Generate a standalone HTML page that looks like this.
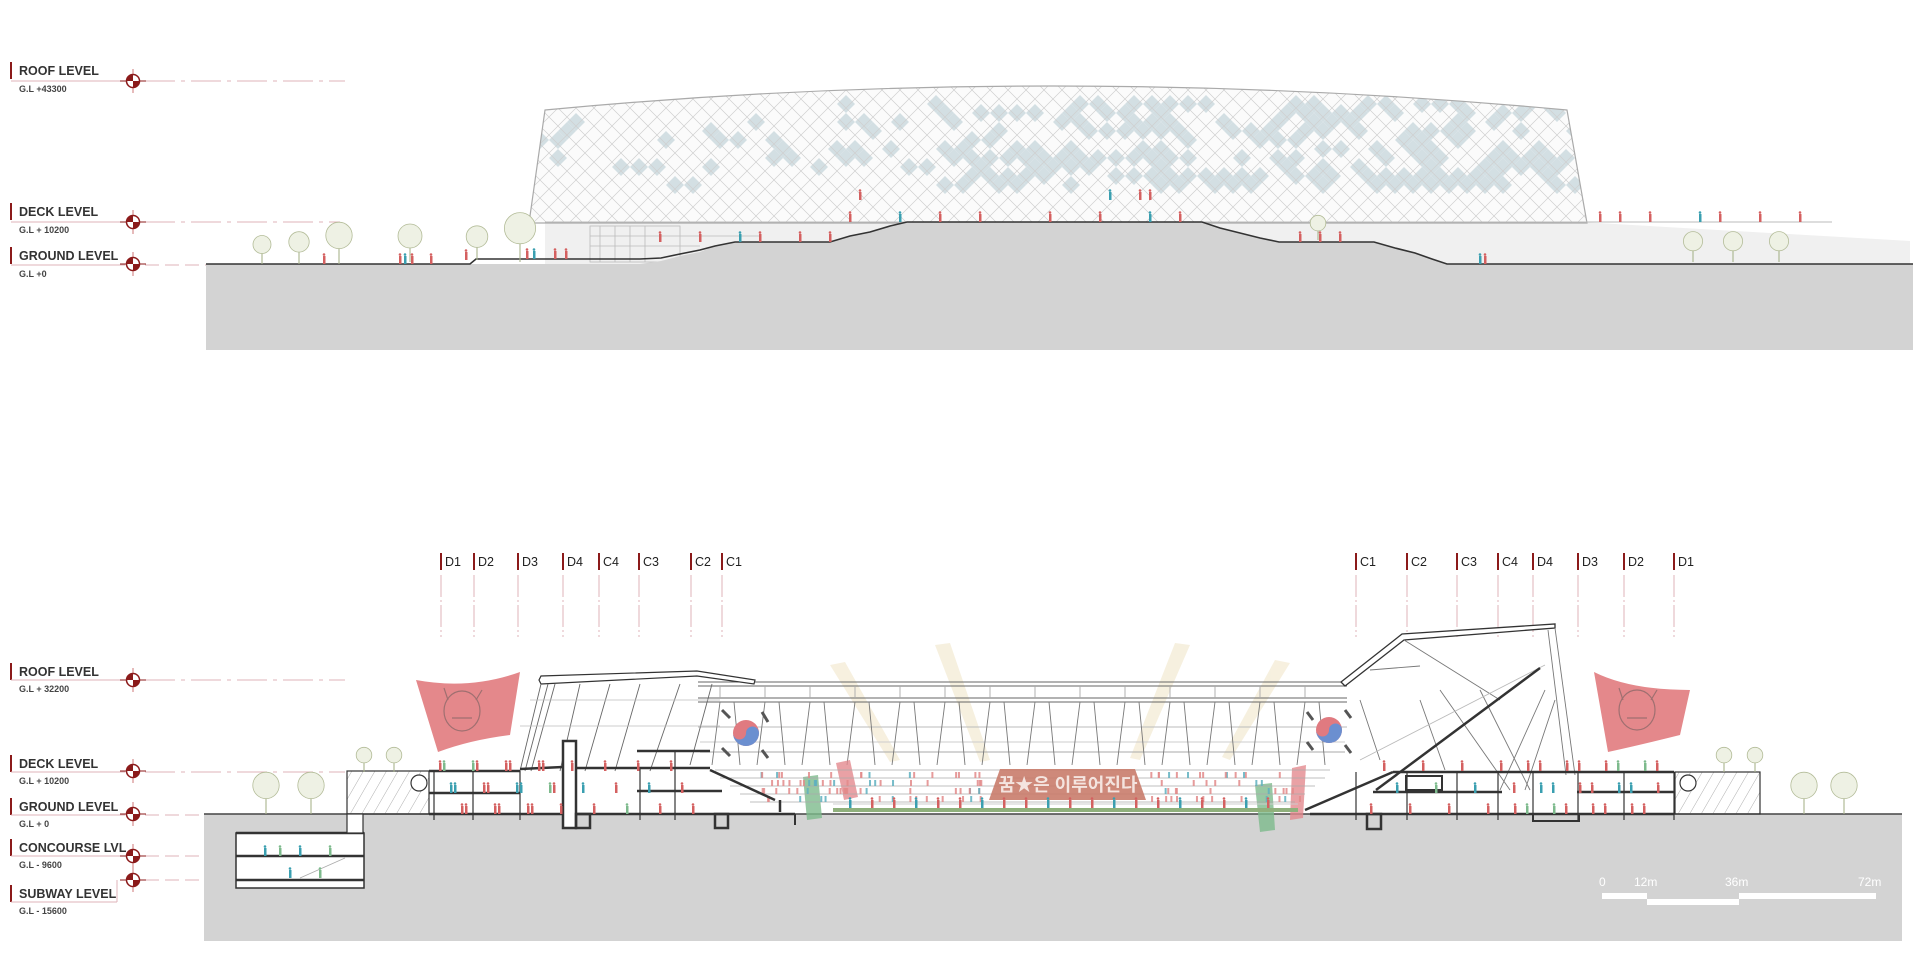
<!DOCTYPE html>
<html><head><meta charset="utf-8">
<style>
html,body{margin:0;padding:0;background:#fff;width:1920px;height:980px;overflow:hidden}
svg{display:block}
text{font-family:"Liberation Sans","Noto Sans CJK KR",sans-serif}
.lb{font-size:12.5px;font-weight:bold;fill:#333}
.sb{font-size:9px;font-weight:bold;fill:#444}
</style></head><body>
<svg id="s" width="1920" height="980" viewBox="0 0 1920 980" xmlns="http://www.w3.org/2000/svg">
<defs>
<pattern id="lat" width="18" height="18" patternUnits="userSpaceOnUse">
<path d="M0,0 L18,18 M18,0 L0,18" stroke="#cfcfcf" stroke-width="0.7"/>
</pattern>
<pattern id="hat" width="10" height="10" patternUnits="userSpaceOnUse" patternTransform="rotate(30)">
<line x1="0" y1="0" x2="0" y2="10" stroke="#777" stroke-width="0.6"/>
</pattern>
<clipPath id="roofclip"><path d="M529,223 L545,110 Q1050,62 1567,110 L1587,223 Z"/></clipPath>
</defs>

<g>
<rect x="10" y="62" width="2" height="17" fill="#8b1a1a"/>
<text x="19" y="75" class="lb">ROOF LEVEL</text>
<line x1="11" y1="81" x2="125" y2="81" stroke="#dfb3b8" stroke-width="1"/>
<text x="19" y="92" class="sb">G.L +43300</text>
<line x1="145" y1="81" x2="345" y2="81" stroke="#dfb3b8" stroke-width="1" stroke-dasharray="30,6,4,6"/>

<rect x="10" y="203" width="2" height="17" fill="#8b1a1a"/>
<text x="19" y="216" class="lb">DECK LEVEL</text>
<line x1="11" y1="222" x2="125" y2="222" stroke="#dfb3b8"/>
<text x="19" y="233" class="sb">G.L + 10200</text>
<line x1="145" y1="222" x2="340" y2="222" stroke="#dfb3b8" stroke-dasharray="30,6,4,6"/>

<rect x="10" y="247" width="2" height="17" fill="#8b1a1a"/>
<text x="19" y="260" class="lb">GROUND LEVEL</text>
<line x1="11" y1="265" x2="125" y2="265" stroke="#dfb3b8"/>
<text x="19" y="277" class="sb">G.L +0</text>
<line x1="145" y1="265" x2="206" y2="265" stroke="#dfb3b8" stroke-dasharray="14,6"/>
</g>

<polygon points="545,222 1580,222 1910,241 1910,264 545,264" fill="#f0f0f0"/>
<path d="M529,223 L545,110 Q1050,62 1567,110 L1587,223 Z" fill="#fbfbfb"/>
<g id="blue" clip-path="url(#roofclip)"></g>
<path d="M529,223 L545,110 Q1050,62 1567,110 L1587,223 Z" fill="url(#lat)" stroke="#aaa" stroke-width="1.2"/>
<line x1="545" y1="222" x2="1832" y2="222" stroke="#bbb" stroke-width="1"/>
<g stroke="#bbb" stroke-width="0.8" fill="none">
<rect x="590" y="226" width="90" height="36"/>
<line x1="590" y1="236" x2="760" y2="236"/><line x1="590" y1="246" x2="700" y2="246"/>
<line x1="600" y1="226" x2="600" y2="262"/><line x1="615" y1="226" x2="615" y2="262"/><line x1="630" y1="226" x2="630" y2="262"/><line x1="645" y1="226" x2="645" y2="262"/>
</g>
<rect x="206" y="264" width="1707" height="86" fill="#d3d3d3"/>
<polygon points="640,264 661,261 680,256 700,252 715,246 735,242 830,242 850,236 870,232 890,226 907,222 1202,222 1220,228 1240,233 1260,238 1279,242 1374,242 1395,248 1415,253 1432,259 1447,264" fill="#d3d3d3"/>
<polyline points="206,264 470,264 476,259 640,259 661,258 680,254 700,250 715,246 735,242 830,242 850,236 870,232 890,226 907,222 1202,222 1220,228 1240,233 1260,238 1279,242 1374,242 1395,248 1415,253 1432,259 1447,264 1913,264" fill="none" stroke="#333" stroke-width="1.6"/>
<g id="treesTop"></g>
<g id="peopleTop"></g>

<g id="grid"></g>

<g>
<rect x="10" y="663" width="2" height="17" fill="#8b1a1a"/>
<text x="19" y="676" class="lb">ROOF LEVEL</text>
<line x1="11" y1="680" x2="125" y2="680" stroke="#dfb3b8"/>
<text x="19" y="692" class="sb">G.L + 32200</text>
<line x1="145" y1="680" x2="345" y2="680" stroke="#dfb3b8" stroke-dasharray="30,6,4,6"/>

<rect x="10" y="755" width="2" height="17" fill="#8b1a1a"/>
<text x="19" y="768" class="lb">DECK LEVEL</text>
<line x1="11" y1="772" x2="125" y2="772" stroke="#dfb3b8"/>
<text x="19" y="784" class="sb">G.L + 10200</text>
<line x1="145" y1="772" x2="345" y2="772" stroke="#dfb3b8" stroke-dasharray="30,6,4,6"/>

<rect x="10" y="798" width="2" height="17" fill="#8b1a1a"/>
<text x="19" y="811" class="lb">GROUND LEVEL</text>
<line x1="11" y1="815" x2="125" y2="815" stroke="#dfb3b8"/>
<text x="19" y="827" class="sb">G.L + 0</text>
<line x1="145" y1="815" x2="204" y2="815" stroke="#dfb3b8" stroke-dasharray="14,6"/>

<rect x="10" y="839" width="2" height="17" fill="#8b1a1a"/>
<text x="19" y="852" class="lb">CONCOURSE LVL</text>
<line x1="11" y1="856" x2="125" y2="856" stroke="#dfb3b8"/>
<text x="19" y="868" class="sb">G.L - 9600</text>
<line x1="145" y1="856" x2="204" y2="856" stroke="#dfb3b8" stroke-dasharray="14,6"/>

<line x1="145" y1="880" x2="204" y2="880" stroke="#dfb3b8" stroke-dasharray="14,6"/>
<line x1="117" y1="880" x2="117" y2="902" stroke="#dfb3b8"/>
<rect x="10" y="885" width="2" height="17" fill="#8b1a1a"/>
<text x="19" y="898" class="lb">SUBWAY LEVEL</text>
<line x1="11" y1="902" x2="117" y2="902" stroke="#dfb3b8"/>
<text x="19" y="914" class="sb">G.L - 15600</text>
</g>
<g id="markers"></g>

<rect x="204" y="814" width="1698" height="127" fill="#d3d3d3"/>
<line x1="204" y1="814" x2="1902" y2="814" stroke="#444" stroke-width="1.5"/>

<g fill="#f3ead2" opacity="0.7">
<polygon points="830,665 845,662 900,760 890,762"/>
<polygon points="935,645 950,643 990,760 980,762"/>
<polygon points="1175,643 1190,645 1140,760 1130,758"/>
<polygon points="1275,660 1290,663 1230,760 1222,757"/>
</g>

<g stroke="#666" stroke-width="0.9" fill="none">
<line x1="698" y1="682" x2="1347" y2="682"/>
<line x1="698" y1="686" x2="1347" y2="686"/>
<line x1="698" y1="698" x2="1347" y2="698"/>
<line x1="698" y1="702" x2="1347" y2="702"/>
<line x1="698" y1="727" x2="1347" y2="727" stroke="#bbb"/>
<line x1="700" y1="742" x2="1345" y2="742" stroke="#ccc"/>
<line x1="700" y1="752" x2="1345" y2="752" stroke="#aaa"/>
</g>
<g id="truss" stroke="#777" stroke-width="0.9" fill="none"></g>

<g>
<circle cx="746" cy="733" r="13" fill="#e07a80"/>
<path d="M733,733 A13,13 0 0 0 759,733 A6.5,6.5 0 0 0 746,733 A6.5,6.5 0 0 1 733,733Z" fill="#6b8fd0"/>
<circle cx="1329" cy="730" r="13" fill="#e07a80"/>
<path d="M1316,730 A13,13 0 0 0 1342,730 A6.5,6.5 0 0 0 1329,730 A6.5,6.5 0 0 1 1316,730Z" fill="#6b8fd0"/>
<g stroke="#555" stroke-width="3">
<line x1="722" y1="710" x2="730" y2="718"/><line x1="762" y1="712" x2="768" y2="722"/><line x1="722" y1="748" x2="730" y2="756"/><line x1="762" y1="750" x2="768" y2="758"/>
<line x1="1307" y1="712" x2="1313" y2="720"/><line x1="1345" y1="710" x2="1351" y2="718"/><line x1="1307" y1="742" x2="1313" y2="750"/><line x1="1345" y1="745" x2="1351" y2="753"/>
</g>
<polygon points="803,777 818,775 822,818 807,820" fill="#7dba8c" opacity="0.8"/>
<polygon points="836,763 850,760 858,797 844,800" fill="#e48a8f" opacity="0.8"/>
<polygon points="1255,785 1272,783 1275,830 1260,832" fill="#7dba8c" opacity="0.8"/>
<polygon points="1292,768 1306,765 1303,818 1290,820" fill="#e48a8f" opacity="0.8"/>
</g>

<g stroke="#aaa" stroke-width="0.8" fill="none">
<line x1="715" y1="770" x2="1330" y2="770"/>
<line x1="720" y1="778" x2="1325" y2="778"/>
<line x1="730" y1="786" x2="1315" y2="786"/>
<line x1="740" y1="794" x2="1305" y2="794"/>
<line x1="750" y1="802" x2="1295" y2="802"/>
</g>
<g id="crowd"></g>
<polygon points="1000,769 1135,769 1146,800 989,800" fill="#c97c6c" opacity="0.9"/>
<text x="1068" y="791" text-anchor="middle" font-size="18" font-weight="bold" fill="#f4e4df" font-family="'Liberation Sans','Noto Sans CJK KR',sans-serif">꿈★은 이루어진다</text>
<rect x="833" y="808" width="465" height="4" fill="#8fb07c"/>
<line x1="833" y1="804" x2="1298" y2="804" stroke="#ccc"/>

<g fill="none" stroke="#333">
<path d="M539,680 L541,676 L697,671 L755,680 L754,684 L697,676 L541,684 Z" stroke-width="1.2" fill="#fff"/>
<g stroke="#666" stroke-width="0.9">
<line x1="541" y1="684" x2="520" y2="771"/><line x1="548" y1="684" x2="525" y2="771"/><line x1="555" y1="684" x2="531" y2="771"/>
<line x1="580" y1="684" x2="560" y2="771"/><line x1="610" y1="684" x2="585" y2="771"/><line x1="640" y1="684" x2="615" y2="771"/>
<line x1="680" y1="684" x2="650" y2="771"/><line x1="712" y1="684" x2="690" y2="765"/>
</g>
<g stroke="#bbb" stroke-width="0.8"><line x1="520" y1="726" x2="720" y2="726"/><line x1="530" y1="700" x2="720" y2="700"/></g>
<rect x="347" y="771" width="82" height="43" fill="url(#hat)" stroke="#333" stroke-width="1.2"/>
<circle cx="419" cy="783" r="8" stroke-width="1.2" fill="#fff"/>
<g stroke-width="2.5">
<line x1="429" y1="771" x2="520" y2="771"/>
<line x1="520" y1="769" x2="563" y2="767"/>
<line x1="576" y1="768" x2="710" y2="768"/>
<line x1="637" y1="751" x2="710" y2="751"/>
<line x1="429" y1="793" x2="520" y2="793"/>
<line x1="637" y1="791" x2="722" y2="791"/>
<line x1="429" y1="814" x2="795" y2="814"/>
<line x1="710" y1="770" x2="775" y2="800"/>
<line x1="780" y1="800" x2="780" y2="812"/>
</g>
<rect x="563" y="741" width="13" height="87" stroke-width="2.5" fill="#fff"/>
<rect x="576" y="814" width="14" height="14" stroke-width="2.5"/>
<rect x="715" y="814" width="13" height="14" stroke-width="2.5"/>
<line x1="795" y1="814" x2="795" y2="825" stroke-width="2"/>
<g stroke-width="1.2"><line x1="434" y1="771" x2="434" y2="820"/><line x1="473" y1="771" x2="473" y2="820"/><line x1="520" y1="771" x2="520" y2="820"/><line x1="640" y1="768" x2="640" y2="820"/><line x1="675" y1="751" x2="675" y2="820"/></g>
<rect x="236" y="833" width="128" height="55" stroke-width="1.5" fill="#fff"/>
<line x1="236" y1="833" x2="364" y2="833" stroke-width="2.5"/>
<line x1="236" y1="856" x2="364" y2="856" stroke-width="2.5"/>
<line x1="236" y1="880" x2="364" y2="880" stroke-width="2.5"/>
<rect x="347" y="814" width="16" height="19" stroke-width="1.2" fill="#fff"/>
<line x1="300" y1="878" x2="345" y2="858" stroke="#aaa" stroke-width="0.8"/>
</g>

<g fill="none" stroke="#333">
<path d="M1341,682 L1402,634 L1555,624 L1555,628 L1404,640 L1345,686 Z" stroke-width="1.3" fill="#fff"/>
<g stroke="#777" stroke-width="0.9">
<line x1="1555" y1="628" x2="1575" y2="775"/><line x1="1548" y1="630" x2="1566" y2="775"/>
<line x1="1370" y1="670" x2="1420" y2="666"/><line x1="1404" y1="640" x2="1500" y2="700"/>
<line x1="1440" y1="690" x2="1510" y2="790"/><line x1="1480" y1="690" x2="1530" y2="790"/>
<line x1="1500" y1="790" x2="1545" y2="690"/><line x1="1525" y1="790" x2="1555" y2="700"/>
<line x1="1360" y1="700" x2="1380" y2="760"/><line x1="1420" y1="700" x2="1445" y2="770"/>
<line x1="1360" y1="760" x2="1545" y2="665" stroke="#bbb"/>
</g>
<g stroke-width="2.5">
<line x1="1376" y1="790" x2="1540" y2="668"/>
<line x1="1305" y1="810" x2="1393" y2="772"/>
<line x1="1393" y1="772" x2="1674" y2="772"/>
<line x1="1373" y1="792" x2="1502" y2="792"/>
<line x1="1577" y1="792" x2="1674" y2="792"/>
<line x1="1310" y1="814" x2="1674" y2="814"/>
</g>
<rect x="1406" y="776" width="36" height="14" stroke-width="2" fill="#fff"/>
<rect x="1367" y="814" width="14" height="15" stroke-width="2.5"/>
<rect x="1533" y="814" width="46" height="7" stroke-width="2"/>
<g stroke-width="1.2"><line x1="1356" y1="772" x2="1356" y2="820"/><line x1="1407" y1="772" x2="1407" y2="820"/><line x1="1457" y1="772" x2="1457" y2="820"/><line x1="1498" y1="772" x2="1498" y2="820"/><line x1="1533" y1="772" x2="1533" y2="820"/><line x1="1578" y1="772" x2="1578" y2="820"/><line x1="1624" y1="772" x2="1624" y2="820"/><line x1="1674" y1="772" x2="1674" y2="820"/></g>
<rect x="1675" y="772" width="85" height="42" fill="url(#hat)" stroke-width="1.2"/>
<circle cx="1688" cy="783" r="8" stroke-width="1.2" fill="#fff"/>
</g>

<path d="M416,680 Q470,690 520,672 L510,735 Q470,740 438,752 Z" fill="#e4888b"/>
<path d="M1594,672 Q1630,690 1690,690 L1680,735 Q1640,745 1608,752 Z" fill="#e4888b"/>
<g fill="none" stroke="#8e6a6a" stroke-width="1.2" opacity="0.8">
<ellipse cx="462" cy="711" rx="18" ry="20"/><path d="M448,700 L444,688 M476,700 L482,690 M452,718 L472,718"/>
<ellipse cx="1637" cy="710" rx="18" ry="20"/><path d="M1623,700 L1619,688 M1651,700 L1657,690 M1627,718 L1647,718"/>
</g>

<g id="treesBot"></g>
<g id="peopleBot"></g>

<g>
<text x="1599" y="886" font-size="12" fill="#fff">0</text>
<text x="1634" y="886" font-size="12" fill="#fff">12m</text>
<text x="1725" y="886" font-size="12" fill="#fff">36m</text>
<text x="1858" y="886" font-size="12" fill="#fff">72m</text>
<rect x="1602" y="893" width="45" height="6" fill="#fff"/>
<rect x="1647" y="899" width="92" height="6" fill="#fff"/>
<rect x="1739" y="893" width="137" height="6" fill="#fff"/>
</g>
</svg>
<script>
(function(){
var NS="http://www.w3.org/2000/svg";
function el(t,a,p){var e=document.createElementNS(NS,t);for(var k in a)e.setAttribute(k,a[k]);(p||document.getElementById('s')).appendChild(e);return e;}
var seed=7;function r(){seed=(seed*16807)%2147483647;return seed/2147483647;}
var bl=document.getElementById('blue');
for(var gy=0;gy<10;gy++)for(var gx=0;gx<60;gx++){
 var cx=540+gx*18+(gy%2?9:0), cy=95+gy*9+9;
 var p=0.18+ (cx>950&&cx<1560?0.3:0) + (cy>150&&cx>900?0.15:0);
 if(r()<p){el('polygon',{points:(cx)+","+(cy-9)+" "+(cx+9)+","+cy+" "+cx+","+(cy+9)+" "+(cx-9)+","+cy,fill:'#d3dfe3'},bl);}
}
var ys=[81,222,264,680,771,814,856,880];
ys.forEach(function(y){
 el('line',{x1:120,y1:y,x2:146,y2:y,stroke:'#8b1a1a','stroke-width':1});
 el('line',{x1:133,y1:y-12,x2:133,y2:y+12,stroke:'#c77','stroke-width':1});
 el('circle',{cx:133,cy:y,r:6.5,fill:'#fff',stroke:'#8b1a1a','stroke-width':1.5});
 el('path',{d:'M133,'+y+' L133,'+(y-6.5)+' A6.5,6.5 0 0 0 126.5,'+y+' Z',fill:'#8b1a1a'});
 el('path',{d:'M133,'+y+' L139.5,'+y+' A6.5,6.5 0 0 1 133,'+(y+6.5)+' Z',fill:'#8b1a1a'});
});
var g=document.getElementById('grid');
[[441,'D1'],[474,'D2'],[518,'D3'],[563,'D4'],[599,'C4'],[639,'C3'],[691,'C2'],[722,'C1'],[1356,'C1'],[1407,'C2'],[1457,'C3'],[1498,'C4'],[1533,'D4'],[1578,'D3'],[1624,'D2'],[1674,'D1']].forEach(function(d){
 el('rect',{x:d[0]-1,y:553,width:2,height:17,fill:'#8b1a1a'},g);
 var t=el('text',{x:d[0]+4,y:566,'font-size':12.5,fill:'#222'},g);t.textContent=d[1];
 el('line',{x1:d[0],y1:575,x2:d[0],y2:637,stroke:'#dfb3b8','stroke-dasharray':'22,3,2,3'},g);
});
var tr=document.getElementById('truss');
for(var x=720;x<1340;x+=45){
 el('line',{x1:x,y1:702,x2:x-8,y2:765},tr);
 el('line',{x1:x+14,y1:702,x2:x+20,y2:765},tr);
 el('line',{x1:x,y1:686,x2:x,y2:698,stroke:'#aaa'},tr);
}
function tree(x,y,h,G){
 G=document.getElementById(G);
 el('line',{x1:x,y1:y,x2:x,y2:y-h*0.6,stroke:'#a8b48c','stroke-width':1.1},G);
 el('circle',{cx:x,cy:y-h*0.65,r:h*0.3,fill:'#eef1e4',stroke:'#b3bc98','stroke-width':0.8},G);
}
[[262,264,30],[299,264,34],[339,264,44],[410,262,40],[477,260,36],[520,262,52],[1318,240,26],[1693,262,32],[1733,262,32],[1779,262,32]].forEach(function(t){tree(t[0],t[1],t[2],'treesTop');});
[[266,814,44],[311,814,44],[364,772,26],[394,772,26],[1724,772,26],[1755,772,26],[1804,814,44],[1844,814,44]].forEach(function(t){tree(t[0],t[1],t[2],'treesBot');});
function person(x,y,c,G){el('rect',{x:x-1,y:y-8,width:2.5,height:8,fill:c},G);el('circle',{cx:x,cy:y-9.5,r:1.3,fill:c},G);}
var pt=document.getElementById('peopleTop');
[[324,264],[400,264],[405,264],[412,264],[431,264],[466,260],[527,259],[534,259],[555,259],[566,259],[660,242],[700,242],[740,242],[760,242],[800,242],[830,242],[850,222],[900,222],[940,222],[980,222],[1050,222],[1100,222],[1150,222],[1180,222],[1300,242],[1320,242],[1340,242],[1480,264],[1485,264],[1600,222],[1620,222],[1650,222],[1700,222],[1720,222],[1760,222],[1800,222],[860,200],[1110,200],[1140,200],[1150,200]].forEach(function(p,i){person(p[0],p[1],i%5==2?'#3a9fb0':'#d46060',pt);});
var pb=document.getElementById('peopleBot');
for(var i=0;i<70;i++){
 var lv=[771,793,814][i%3];
 var x= i<35 ? 440+ (i*11)%260 : 1360+(i*13)%300;
 person(x,lv,i%6==1?'#3a9fb0':(i%7==3?'#7dba8c':'#d46060'),pb);
}
[[265,856],[280,856],[300,856],[330,856],[290,878],[320,878]].forEach(function(p,i){person(p[0],p[1],i%2?'#7dba8c':'#3a9fb0',pb);});
for(var i=0;i<20;i++){person(850+i*22,808,i%3==0?'#3a9fb0':'#d46060',pb);}
var cr=document.getElementById('crowd');
for(var i=0;i<180;i++){
 var row=i%4, y=778+row*8, x=760+r()*540;
 if(x>985&&x<1150)continue;
 el('rect',{x:x,y:y-6,width:2,height:6,fill:r()<0.25?'#5fb0c0':'#e28a8a',opacity:0.85},cr);
}
})();
</script>
</body></html>
